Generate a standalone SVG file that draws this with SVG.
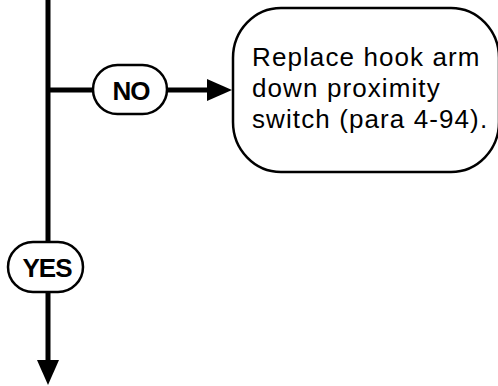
<svg xmlns="http://www.w3.org/2000/svg" width="498" height="386" viewBox="0 0 498 386">
<style>
.pill{fill:#fff;stroke:#000;stroke-width:2.5}
.box{fill:#fff;stroke:#000;stroke-width:2.5}
.lbl{font-family:"Liberation Sans",Arial,sans-serif;font-weight:bold;font-size:26px;text-anchor:middle;fill:#000;letter-spacing:-1px}
.txt{font-family:"Liberation Sans",Arial,sans-serif;font-size:26px;fill:#000;letter-spacing:1.1px}
.ln{stroke:#000;stroke-width:5;fill:none}
</style>
<g id="connectors">
<line class="ln" x1="48" y1="0" x2="48" y2="362"/>
<polygon points="37,360 59,360 48,385" fill="#000"/>
<line class="ln" x1="48" y1="90" x2="209" y2="90"/>
<polygon points="207,79 207,101 232,90" fill="#000"/>
</g>
<g id="no-label">
<rect class="pill" x="93" y="65" width="74" height="49" rx="24.5" ry="24.5"/>
<text class="lbl" x="131" y="100">NO</text>
</g>
<g id="yes-label">
<rect class="pill" x="8" y="242" width="75" height="50" rx="25" ry="25"/>
<text class="lbl" x="47" y="277">YES</text>
</g>
<g id="replace-box">
<rect class="box" x="233" y="8" width="266" height="164" rx="48" ry="50"/>
<text class="txt" x="252" y="66">Replace hook arm</text>
<text class="txt" x="252" y="97">down proximity</text>
<text class="txt" x="252" y="128">switch (para 4-94).</text>
</g>
</svg>
